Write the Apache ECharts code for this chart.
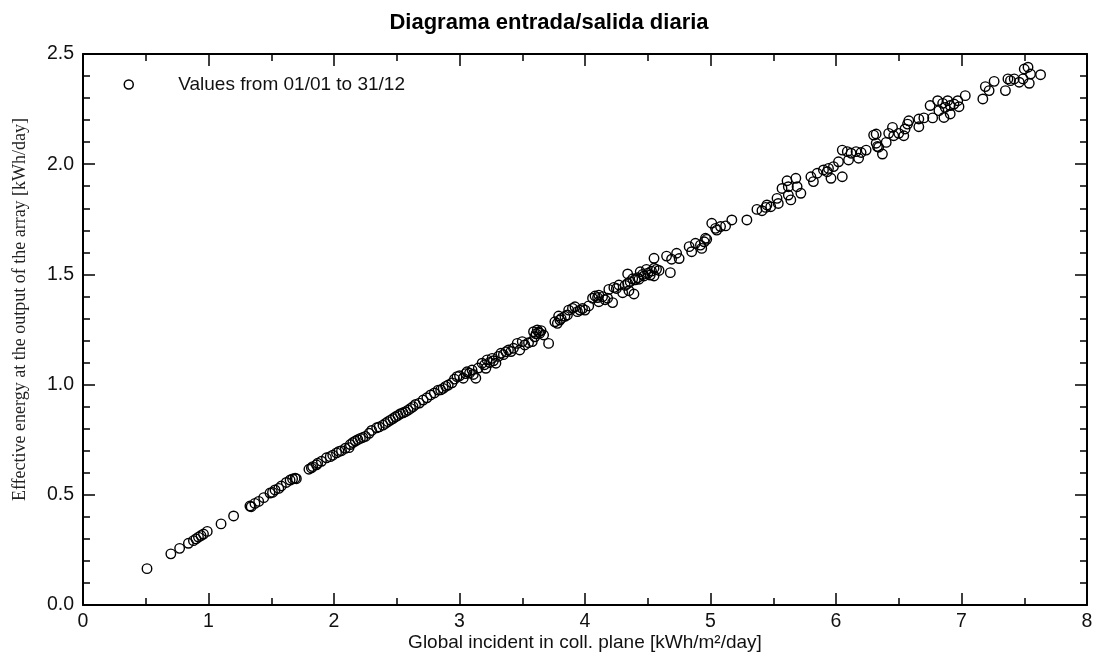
<!DOCTYPE html>
<html>
<head>
<meta charset="utf-8">
<title>Diagrama entrada/salida diaria</title>
<script src="https://cdn.jsdelivr.net/npm/echarts@6/dist/echarts.min.js"></script>
<style>
  html, body { margin: 0; padding: 0; background: #fff; }
  #chart { width: 1098px; height: 654px; }
</style>
</head>
<body>
<div id="chart"></div>
<script>
// irradiación diaria en el plano (kWh/m²/day)
const globalIncident = [
  0.51, 0.70, 0.77, 0.84, 0.88, 0.90, 0.92, 0.94, 0.96, 0.99,
  1.10, 1.20, 1.33, 1.34, 1.37, 1.40, 1.44, 1.49, 1.51, 1.53,
  1.56, 1.58, 1.62, 1.65, 1.67, 1.69, 1.70, 1.80, 1.82, 1.83,
  1.86, 1.87, 1.90, 1.94, 1.97, 1.99, 2.02, 2.04, 2.06, 2.09,
  2.12, 2.13, 2.15, 2.17, 2.19, 2.21, 2.23, 2.25, 2.28, 2.30,
  2.34, 2.36, 2.39, 2.41, 2.43, 2.45, 2.47, 2.49, 2.51, 2.53,
  2.55, 2.57, 2.59, 2.61, 2.63, 2.65, 2.68, 2.71, 2.74, 2.77,
  2.80, 2.83, 2.85, 2.87, 2.89, 2.91, 2.94, 2.96, 2.98, 3.00,
  3.03, 3.05, 3.06, 3.08, 3.10, 3.11, 3.13, 3.15, 3.18, 3.20,
  3.21, 3.22, 3.24, 3.26, 3.27, 3.29, 3.31, 3.33, 3.35, 3.37,
  3.39, 3.41, 3.43, 3.46, 3.48, 3.50, 3.52, 3.55, 3.58, 3.59,
  3.60, 3.61, 3.62, 3.63, 3.64, 3.65, 3.67, 3.71, 3.76, 3.78,
  3.80, 3.81, 3.79, 3.84, 3.86, 3.87, 3.90, 3.92, 3.94, 3.96,
  3.98, 4.00, 4.03, 4.06, 4.08, 4.10, 4.11, 4.11, 4.14, 4.16,
  4.18, 4.19, 4.22, 4.23, 4.25, 4.27, 4.30, 4.32, 4.34, 4.34,
  4.35, 4.36, 4.38, 4.39, 4.40, 4.42, 4.43, 4.44, 4.46, 4.47,
  4.49, 4.50, 4.52, 4.53, 4.55, 4.55, 4.55, 4.57, 4.59, 4.65,
  4.68, 4.69, 4.73, 4.75, 4.83, 4.85, 4.88, 4.92, 4.93, 4.95,
  4.97, 4.96, 5.01, 5.04, 5.05, 5.08, 5.12, 5.17, 5.29, 5.37,
  5.41, 5.44, 5.45, 5.48, 5.53, 5.54, 5.57, 5.61, 5.62, 5.62,
  5.64, 5.68, 5.69, 5.72, 5.80, 5.82, 5.85, 5.90, 5.93, 5.94,
  5.96, 5.98, 6.02, 6.05, 6.05, 6.09, 6.10, 6.12, 6.16, 6.18,
  6.20, 6.24, 6.30, 6.32, 6.32, 6.33, 6.34, 6.37, 6.40, 6.42,
  6.45, 6.46, 6.50, 6.54, 6.55, 6.57, 6.58, 6.66, 6.66, 6.70,
  6.75, 6.77, 6.81, 6.82, 6.85, 6.86, 6.87, 6.89, 6.91, 6.91,
  6.94, 6.97, 6.98, 7.03, 7.17, 7.19, 7.22, 7.26, 7.35, 7.37,
  7.39, 7.42, 7.46, 7.49, 7.50, 7.53, 7.54, 7.55, 7.63
];
// energía efectiva a la salida del campo (kWh/day)
const effectiveEnergy = [
  0.165, 0.232, 0.257, 0.280, 0.292, 0.300, 0.308, 0.315, 0.322, 0.334,
  0.368, 0.404, 0.449, 0.446, 0.461, 0.470, 0.487, 0.508, 0.511, 0.522,
  0.529, 0.540, 0.556, 0.567, 0.572, 0.575, 0.573, 0.616, 0.622, 0.628,
  0.636, 0.643, 0.652, 0.668, 0.673, 0.680, 0.690, 0.697, 0.700, 0.711,
  0.714, 0.728, 0.737, 0.744, 0.750, 0.756, 0.760, 0.765, 0.779, 0.792,
  0.804, 0.808, 0.816, 0.824, 0.832, 0.839, 0.846, 0.854, 0.860, 0.868,
  0.872, 0.877, 0.884, 0.892, 0.900, 0.910, 0.916, 0.930, 0.940, 0.953,
  0.962, 0.975, 0.976, 0.983, 0.992, 0.998, 1.008, 1.025, 1.036, 1.040,
  1.029, 1.050, 1.058, 1.052, 1.066, 1.046, 1.029, 1.075, 1.097, 1.090,
  1.074, 1.112, 1.100, 1.119, 1.108, 1.097, 1.128, 1.142, 1.136, 1.149,
  1.157, 1.150, 1.165, 1.187, 1.157, 1.195, 1.180, 1.190, 1.195, 1.240,
  1.217, 1.230, 1.248, 1.238, 1.233, 1.245, 1.225, 1.187, 1.285, 1.278,
  1.293, 1.300, 1.311, 1.310, 1.316, 1.338, 1.346, 1.353, 1.331, 1.338,
  1.345, 1.338, 1.357, 1.392, 1.402, 1.395, 1.406, 1.376, 1.399, 1.385,
  1.392, 1.432, 1.372, 1.441, 1.436, 1.452, 1.417, 1.450, 1.459, 1.502,
  1.426, 1.467, 1.480, 1.411, 1.475, 1.485, 1.478, 1.512, 1.500, 1.493,
  1.523, 1.505, 1.497, 1.515, 1.528, 1.493, 1.573, 1.523, 1.518, 1.583,
  1.508, 1.569, 1.596, 1.572, 1.626, 1.603, 1.641, 1.633, 1.618, 1.648,
  1.659, 1.664, 1.732, 1.709, 1.701, 1.717, 1.720, 1.747, 1.747, 1.795,
  1.789, 1.804, 1.815, 1.807, 1.845, 1.822, 1.890, 1.925, 1.860, 1.898,
  1.838, 1.936, 1.898, 1.868, 1.943, 1.921, 1.959, 1.974, 1.966, 1.981,
  1.936, 1.989, 2.011, 1.943, 2.064, 2.057, 2.019, 2.050, 2.057, 2.027,
  2.053, 2.064, 2.132, 2.095, 2.137, 2.080, 2.077, 2.046, 2.099, 2.140,
  2.167, 2.129, 2.140, 2.129, 2.160, 2.182, 2.197, 2.170, 2.205, 2.210,
  2.266, 2.210, 2.288, 2.243, 2.276, 2.212, 2.258, 2.288, 2.266, 2.228,
  2.273, 2.288, 2.261, 2.311, 2.296, 2.352, 2.334, 2.376, 2.334, 2.387,
  2.379, 2.387, 2.372, 2.387, 2.432, 2.440, 2.367, 2.409, 2.406
];
const seriesName = "Values from 01/01 to 31/12";

const chart = echarts.init(document.getElementById("chart"));
const points = globalIncident.map((x, i) => [x, effectiveEnergy[i]]);

const labelFont = { color: "#111", fontSize: 19.5, fontFamily: "Liberation Sans" };
const frameLine = { show: true, onZero: false, lineStyle: { color: "#000", width: 2 } };
const tickStyle = { color: "#000", width: 1.5 };

// eje superior / derecho sólo para cerrar el marco con marcas
const mirrorX = {
  type: "value", min: 0, max: 8, interval: 1,
  axisLine: frameLine,
  axisTick: { show: true, inside: true, length: 12, lineStyle: tickStyle },
  minorTick: { show: true, splitNumber: 2, length: 7, lineStyle: tickStyle },
  axisLabel: { show: false },
  splitLine: { show: false }
};
const mirrorY = {
  type: "value", min: 0, max: 2.5, interval: 0.5,
  axisLine: frameLine,
  axisTick: { show: true, inside: true, length: 12, lineStyle: tickStyle },
  minorTick: { show: true, splitNumber: 5, length: 7, lineStyle: tickStyle },
  axisLabel: { show: false },
  splitLine: { show: false }
};

const option = {
  backgroundColor: "#fff",
  animation: false,
  title: {
    text: "Diagrama entrada/salida diaria",
    left: "center",
    top: 7,
    textStyle: { color: "#000", fontSize: 22, fontWeight: "bold", fontFamily: "Liberation Sans" }
  },
  legend: {
    left: 123.5,
    top: 75,
    padding: 0,
    itemWidth: 9,
    itemHeight: 9,
    data: [{ name: seriesName, icon: "circle" }],
    itemStyle: { color: "transparent", borderColor: "#000", borderWidth: 1.5 },
    // hueco entre el símbolo y el texto
    formatter: name => "{g|}" + name,
    textStyle: {
      color: "#111", fontSize: 19, fontFamily: "Liberation Sans",
      rich: { g: { width: 40 } }
    }
  },
  grid: { left: 83, right: 11, top: 54, bottom: 49, outerBoundsMode: "none" },
  xAxis: [
    {
      type: "value", min: 0, max: 8, interval: 1,
      name: "Global incident in coll. plane [kWh/m²/day]",
      nameLocation: "middle",
      nameGap: 28,
      nameMoveOverlap: false,
      nameTextStyle: { color: "#111", fontSize: 19, fontFamily: "Liberation Sans" },
      axisLine: frameLine,
      axisTick: { show: true, inside: true, length: 12, lineStyle: tickStyle },
      minorTick: { show: true, splitNumber: 2, length: 7, lineStyle: tickStyle },
      axisLabel: Object.assign({ margin: 7 }, labelFont),
      splitLine: { show: false }
    },
    Object.assign({ position: "top" }, mirrorX)
  ],
  yAxis: [
    {
      type: "value", min: 0, max: 2.5, interval: 0.5,
      name: "Effective energy at the output of the array [kWh/day]",
      nameLocation: "middle",
      nameGap: 54,
      nameMoveOverlap: false,
      // el título del eje está algo por encima del centro
      nameTextStyle: { color: "#222", fontSize: 18, fontFamily: "Liberation Serif", padding: [0, 0, 0, 40] },
      axisLine: frameLine,
      axisTick: { show: true, inside: true, length: 12, lineStyle: tickStyle },
      minorTick: { show: true, splitNumber: 5, length: 7, lineStyle: tickStyle },
      axisLabel: Object.assign({ margin: 9, formatter: v => v.toFixed(1) }, labelFont),
      splitLine: { show: false }
    },
    Object.assign({ position: "right" }, mirrorY)
  ],
  series: [
    {
      name: seriesName,
      type: "scatter",
      xAxisIndex: 0,
      yAxisIndex: 0,
      symbol: "circle",
      symbolSize: 9.5,
      data: points,
      itemStyle: { color: "transparent", borderColor: "#000", borderWidth: 1.4, opacity: 1 },
      emphasis: { disabled: true }
    }
  ]
};
chart.setOption(option);
</script>
</body>
</html>
